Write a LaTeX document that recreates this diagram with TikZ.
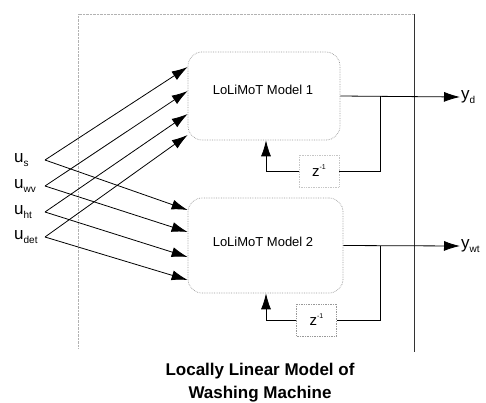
\documentclass[tikz,border=0pt]{standalone}
\usepackage{fontspec}
\setmainfont{Liberation Sans}
\usetikzlibrary{arrows.meta}

\newcommand{\sig}[2]{#1\raisebox{-0.45ex}{\fontsize{10}{10}\selectfont #2}}

\begin{document}
\begin{tikzpicture}[x=1pt, y=-1pt,
    model/.style={draw=gray!80, densely dotted, line width=0.7pt, rounded corners=14pt},
    zbox/.style={draw=gray!80, densely dotted, line width=0.7pt, minimum width=40pt, minimum height=32pt, inner sep=0pt, font=\fontsize{15}{15}\selectfont},
    signal/.style={-{Latex[length=16pt, width=10pt]}, line width=0.8pt},
    wire/.style={line width=0.8pt},
    lbl/.style={font=\fontsize{17}{17}\selectfont, inner sep=1pt}]
        \useasboundingbox (0,0) rectangle (486,402);

        \draw[gray!60, densely dotted] (78,348) -- (78,14) -- (414,14);
        \draw[gray!40!black, line width=0.6pt] (414,14) -- (414,352);

        \node[model, minimum width=152pt, minimum height=88pt] (m1) at (264,96) {};
        \node[model, minimum width=155pt, minimum height=95pt] (m2) at (265.5,245.5) {};
        \node[font=\fontsize{13}{13}\selectfont] (m1txt) at (263,90) {LoLiMoT Model 1};
        \node[font=\fontsize{13}{13}\selectfont] (m2txt) at (263,242) {LoLiMoT Model 2};

        \node[zbox, draw=gray!45] (z1) at (319,171) {z\raisebox{0.9ex}{\fontsize{7}{7}\selectfont -1}};
        \node[zbox] (z2) at (316.5,320) {z\raisebox{0.9ex}{\fontsize{7}{7}\selectfont -1}};

        \foreach \n/\y in {s/160, wv/186, ht/212, det/237} {
            \coordinate (v\n) at (45,\y);
            \node[lbl, anchor=west] (u\n) at (13,\y) {\sig{u}{\n}};
        }

        \foreach \n/\a/\b in {s/67/210, wv/91/232, ht/114/257, det/135/280} {
            \draw[signal] (v\n) -- (m1.west |- 0,\a);
            \draw[signal] (v\n) -- (m2.west |- 0,\b);
        }

        \node[lbl, anchor=west] (yd) at (460,97) {\sig{y}{d}};
        \node[lbl, anchor=west] (ywt) at (460,246) {\sig{y}{wt}};

        \draw[signal] (m1.east) -- (yd.west);
        \draw[signal] (m2.east) -- (ywt.west);

        \draw[wire] (m1.east -| 380,0) |- (z1.east);
        \draw[wire] (m2.east -| 380,0) |- (z2.east);
        \draw[signal] (z1.west) -| (m1.south -| 266,0);
        \draw[signal] (z2.west) -| (m2.south -| 266,0);

        \node[font=\fontsize{17}{23}\selectfont\bfseries, align=center] (title) at (260,383) {Locally Linear Model of\\Washing Machine};
\end{tikzpicture}
\end{document}
